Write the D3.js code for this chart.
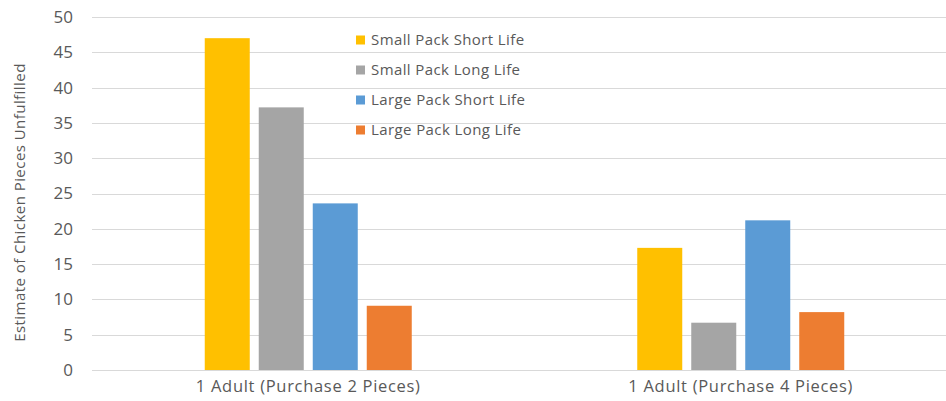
<!DOCTYPE html>
<html>
<head>
<meta charset="utf-8">
<script src="https://cdn.jsdelivr.net/npm/d3@7/dist/d3.min.js"></script>
<style>
  html, body { margin: 0; padding: 0; background: #fff; }
  svg { display: block; font-family: "Open Sans", Lato, sans-serif; }
</style>
</head>
<body>
<svg id="chart" width="946" height="401"></svg>
<script>
// Chart data
const categories = ["1 Adult (Purchase 2 Pieces)", "1 Adult (Purchase 4 Pieces)"];
const seriesNames = ["Small Pack Short Life", "Small Pack Long Life", "Large Pack Short Life", "Large Pack Long Life"];
const smallShort = [47.0, 17.3];
const smallLong = [37.2, 6.7];
const largeShort = [23.6, 21.2];
const largeLong = [9.1, 8.2];
const yTicks = [0, 5, 10, 15, 20, 25, 30, 35, 40, 45, 50];
const yTitle = "Estimate of Chicken Pieces Unfulfilled";

const seriesValues = [smallShort, smallLong, largeShort, largeLong];
const colors = ["#FFC000", "#A5A5A5", "#5B9BD5", "#ED7D31"];
const textColor = "#595959";

const svg = d3.select("#chart");
const margin = { left: 92, right: -11, top: 17, bottom: 31 };
const W = 946, H = 401;

const x = d3.scaleBand().domain(categories).range([margin.left, W - margin.right]).paddingInner(0).paddingOuter(0);
const y = d3.scaleLinear().domain([0, 50]).range([H - margin.bottom, margin.top]);

const barW = 45, barGap = 9;
const groupW = seriesNames.length * barW + (seriesNames.length - 1) * barGap;
const xs = d3.scaleBand().domain(seriesNames).range([0, groupW]).paddingInner(barGap / (barW + barGap)).paddingOuter(0);

// Horizontal gridlines
svg.append("g").selectAll("line").data(yTicks).join("line")
  .attr("x1", margin.left).attr("x2", W)
  .attr("y1", d => Math.round(y(d)) + 0.5).attr("y2", d => Math.round(y(d)) + 0.5)
  .attr("stroke", "#d9d9d9").attr("stroke-width", 1);

// Y tick labels
svg.append("g").selectAll("text").data(yTicks).join("text")
  .attr("x", 73).attr("y", d => y(d))
  .attr("dy", "0.35em").attr("text-anchor", "end")
  .attr("fill", textColor).attr("font-size", 17)
  .text(d => d);

// Y axis title
svg.append("text")
  .attr("transform", `translate(25,${(y(0) + y(50)) / 2 + 9}) rotate(-90)`)
  .attr("text-anchor", "middle")
  .attr("fill", textColor).attr("font-size", 15)
  .attr("letter-spacing", 0.45)
  .text(yTitle);

// Bars
const groups = svg.append("g").selectAll("g").data(categories).join("g")
  .attr("transform", c => `translate(${x(c) + x.bandwidth() / 2 - groupW / 2},0)`);

groups.selectAll("rect")
  .data((c, i) => seriesNames.map((s, k) => ({ s, k, v: seriesValues[k][i] })))
  .join("rect")
  .attr("x", d => xs(d.s))
  .attr("width", xs.bandwidth())
  .attr("y", d => y(d.v))
  .attr("height", d => y(0) - y(d.v))
  .attr("fill", d => colors[d.k]);

// Category labels
svg.append("g").selectAll("text").data(categories).join("text")
  .attr("x", c => x(c) + x.bandwidth() / 2)
  .attr("y", 392)
  .attr("text-anchor", "middle")
  .attr("fill", textColor).attr("font-size", 16.5)
  .attr("letter-spacing", 0.7)
  .text(c => c);

// Legend
const legend = svg.append("g").attr("transform", "translate(356,40)");
const items = legend.selectAll("g").data(seriesNames).join("g")
  .attr("transform", (d, i) => `translate(0,${i * 30})`);
items.append("rect")
  .attr("x", 0).attr("y", -4.5).attr("width", 9).attr("height", 9)
  .attr("fill", (d, i) => colors[i]);
items.append("text")
  .attr("x", 15).attr("y", 0).attr("dy", "0.35em")
  .attr("fill", textColor).attr("font-size", 15)
  .attr("letter-spacing", 0.4)
  .text(d => d);
</script>
</body>
</html>
